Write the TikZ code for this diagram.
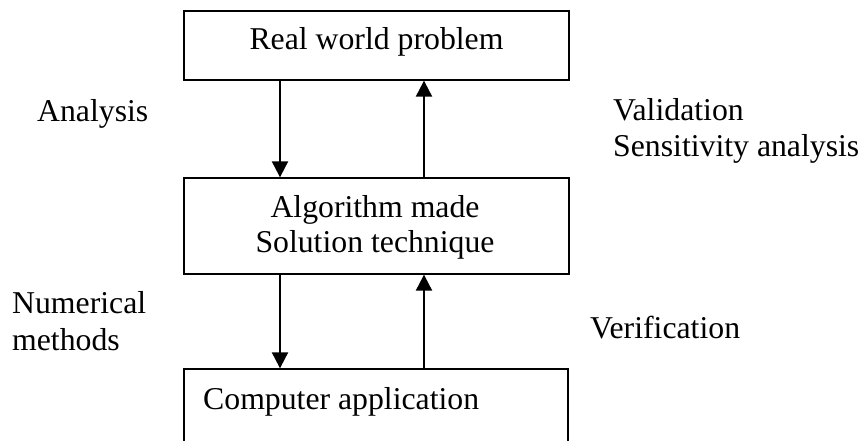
\documentclass[tikz,border=0pt]{standalone}
\usepackage{fontspec}
\setmainfont{Liberation Serif}
\usetikzlibrary{arrows.meta}

\tikzset{
 box/.style={draw, line width=1.3pt, minimum width=385pt, inner sep=0pt},
 lbl/.style={inner sep=0pt, font=\fontsize{31.75}{35}\selectfont},
 flow/.style={line width=2pt, -{Triangle[length=16pt,width=16pt]}}
}

\begin{document}
\begin{tikzpicture}[x=1pt,y=-1pt]
\clip (0,0) rectangle (863,441);
\node[box, minimum height=69pt] (problem) at (376.5,45.5) {};
\node[box, minimum height=96pt] (algo) at (376.5,226) {};
\node[box, minimum height=150pt, minimum width=384pt] (comp) at (376,444) {};
\coordinate (dn) at (280,0);
\coordinate (up) at (424,0);
\node[lbl, anchor=base] (problemtxt) at (376.5,50) {Real world problem};
\node[lbl, anchor=base] (algotxt) at (375,218) {Algorithm made};
\node[lbl, anchor=base] (soltxt) at (375,253) {Solution technique};
\node[lbl, anchor=base west] (comptxt) at (203,409) {Computer application};
\draw[flow] (problem.south -| dn) -- (algo.north -| dn);
\draw[flow] (algo.north -| up) -- (problem.south -| up);
\draw[flow] (algo.south -| dn) -- (comp.north -| dn);
\draw[flow] (comp.north -| up) -- (algo.south -| up);
\node[lbl, anchor=base west] (analysis) at (37,122) {Analysis};
\node[lbl, anchor=base west] (valid) at (613,121) {Validation};
\node[lbl, anchor=base west] (sens) at (613,157) {Sensitivity analysis};
\node[lbl, anchor=base west] (numer) at (12,313) {Numerical};
\node[lbl, anchor=base west] (meth) at (12,350) {methods};
\node[lbl, anchor=base west] (verif) at (590,338) {Verification};
\end{tikzpicture}
\end{document}
